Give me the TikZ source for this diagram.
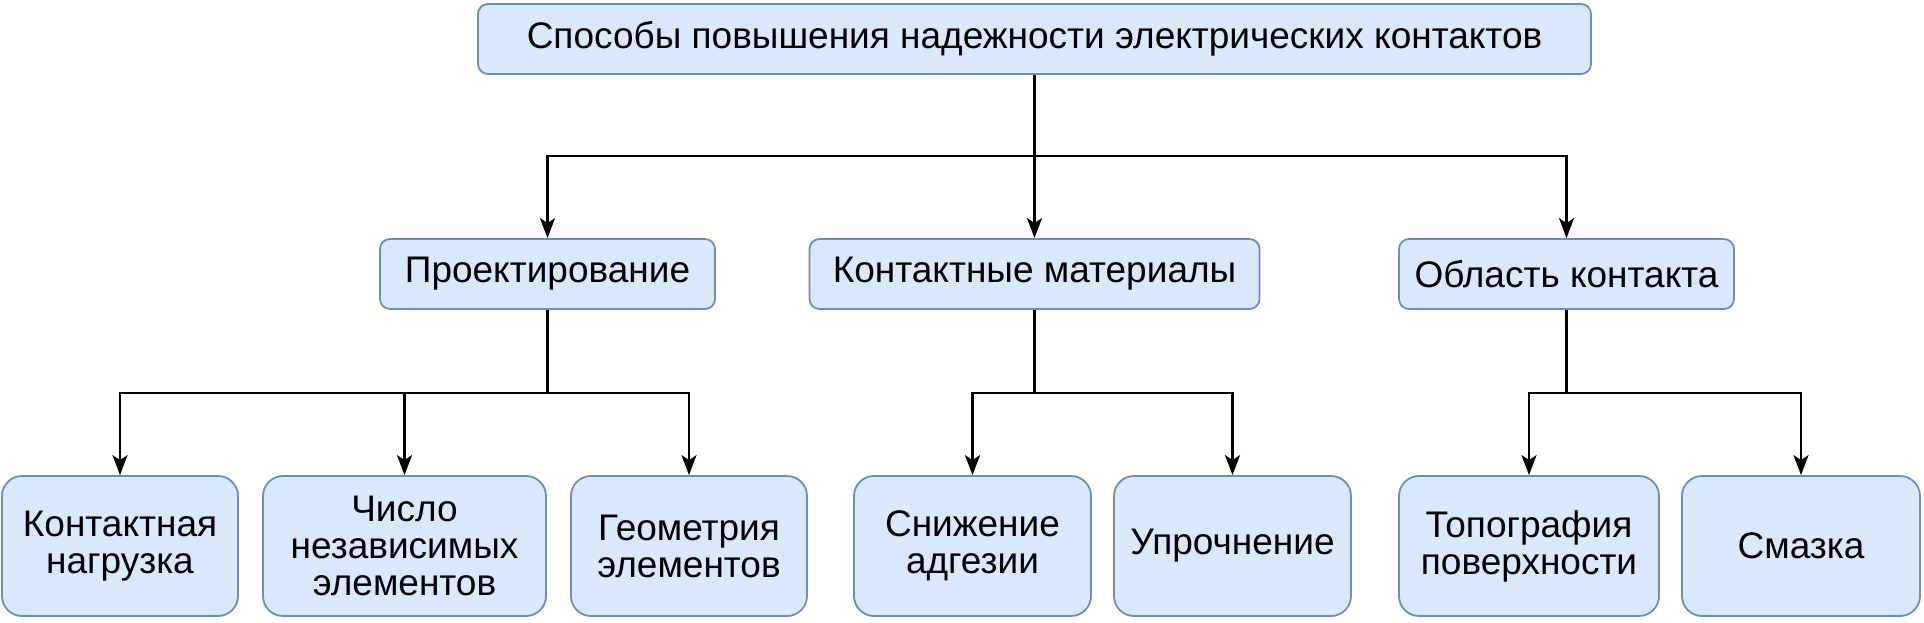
\documentclass[tikz,border=0pt]{standalone}
\usepackage{fontspec}
\setmainfont{Liberation Sans}
\usetikzlibrary{arrows.meta}
\begin{document}
\begin{tikzpicture}[x=1pt,y=-1pt,
  box/.style={draw=boxline,fill=boxfill,line width=1.8pt,inner sep=0pt,align=center,
    font=\fontsize{37}{37}\selectfont},
  boxs/.style={box,rounded corners=10pt,minimum height=70pt},
  boxb/.style={box,rounded corners=20pt,minimum height=140pt},
  arr/.style={line width=2.4pt,-{Stealth[length=20pt,width=15pt,inset=5pt]}},
  ln/.style={line width=2.4pt}]
\definecolor{boxfill}{HTML}{DAE8FC}
\definecolor{boxline}{HTML}{6C8EBF}
\useasboundingbox (0,0) rectangle (1924,622);
\node[boxs,minimum width=1113pt] (top) at (1034.5,39) {Способы повышения надежности электрических контактов};
\node[boxs,minimum width=335pt] (p1) at (547.5,274) {Проектирование};
\node[boxs,minimum width=450pt] (p2) at (1034.5,274) {Контактные материалы};
\node[boxs,minimum width=335pt] (p3) at (1566.5,274) {Область контакта};
\node[boxb,minimum width=236pt] (c1) at (120,546) {Контактная\\нагрузка};
\node[boxb,minimum width=283pt] (c2) at (404.5,546) {Число\\независимых\\элементов};
\node[boxb,minimum width=236pt] (c3) at (689,546) {Геометрия\\элементов};
\node[boxb,minimum width=237pt] (c4) at (972.5,546) {Снижение\\адгезии};
\node[boxb,minimum width=237pt] (c5) at (1232.5,546) {Упрочнение};
\node[boxb,minimum width=260pt] (c6) at (1529,546) {Топография\\поверхности};
\node[boxb,minimum width=238pt] (c7) at (1801,546) {Смазка};
\coordinate (b1) at (0,156);
\coordinate (b2) at (0,393);
\draw[arr] (top.south) -- (p2.north);
\draw[arr] (top.south) -- (top.south |- b1) -| (p1.north);
\draw[arr] (top.south) -- (top.south |- b1) -| (p3.north);
\draw[arr] (p1.south) -- (p1.south |- b2) -| (c1.north);
\draw[arr] (p1.south) -- (p1.south |- b2) -| (c2.north);
\draw[arr] (p1.south) -- (p1.south |- b2) -| (c3.north);
\draw[arr] (p2.south) -- (p2.south |- b2) -| (c4.north);
\draw[arr] (p2.south) -- (p2.south |- b2) -| (c5.north);
\draw[arr] (p3.south) -- (p3.south |- b2) -| (c6.north);
\draw[arr] (p3.south) -- (p3.south |- b2) -| (c7.north);
\end{tikzpicture}
\end{document}
